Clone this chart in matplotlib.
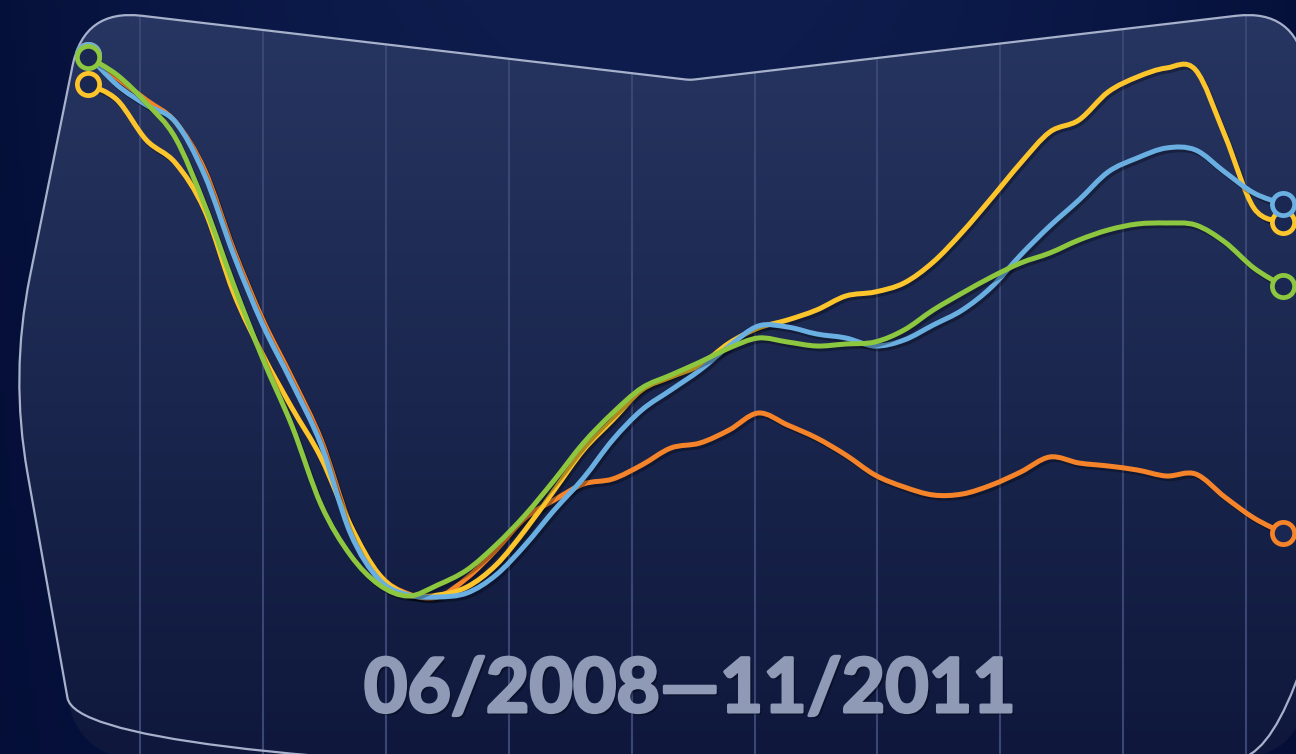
import matplotlib
matplotlib.use("Agg")
import matplotlib.pyplot as plt
import matplotlib.patheffects as pe
import numpy as np
from matplotlib.path import Path
from matplotlib.patches import PathPatch

W, H = 1296, 754

# monthly index, 06/2008 .. 11/2011 (42 months)
months = list(range(42))
period_label = "06/2008\u201411/2011"

blue = [109.0, 103.0, 99.0, 95.6, 85.0, 69.0, 55.0, 43.4, 31.0, 13.4, 4.0, 1.0,
        0.6, 1.4, 5.0, 11.0, 18.0, 24.4, 32.0, 38.0, 42.0, 46.0, 50.8, 54.8,
        54.6, 53.2, 52.4, 50.8, 52.0, 55.0, 58.0, 62.6, 69.0, 74.8, 80.0, 85.6,
        88.4, 90.4, 90.0, 85.6, 81.4, 79.2]
orange = [109.0, 104.4, 100.0, 95.6, 86.0, 70.0, 56.0, 44.4, 32.0, 15.0, 5.0, 1.2,
          0.6, 4.4, 10.0, 16.4, 20.0, 23.2, 24.2, 27.0, 30.4, 31.4, 34.0, 37.4,
          35.0, 32.4, 29.0, 25.0, 22.6, 21.0, 21.2, 23.0, 25.6, 28.6, 27.4, 26.8,
          26.0, 24.8, 25.2, 20.6, 16.4, 13.4]
yellow = [103.2, 100.0, 92.0, 87.4, 78.0, 61.4, 49.0, 38.4, 28.4, 15.0, 5.0, 1.0,
          1.0, 2.6, 7.0, 14.0, 22.0, 30.0, 36.0, 42.0, 44.6, 47.0, 51.4, 54.4,
          56.0, 58.0, 60.8, 61.6, 63.4, 67.6, 73.6, 80.4, 87.4, 93.6, 96.0, 101.6,
          104.6, 106.4, 106.0, 93.0, 78.4, 75.6]
green = [108.6, 105.0, 99.4, 92.4, 79.0, 63.0, 48.2, 34.8, 19.0, 9.0, 3.0, 0.8,
         3.0, 6.0, 11.0, 17.0, 24.0, 31.4, 37.4, 42.4, 45.0, 47.6, 50.4, 52.4,
         51.6, 50.8, 51.2, 51.6, 54.0, 58.0, 61.4, 64.6, 67.4, 69.4, 72.0, 74.0,
         75.2, 75.4, 75.0, 71.6, 66.4, 62.8]

series = [
    (orange, "#f5832a"),
    (yellow, "#fdc52c"),
    (blue, "#6aafe2"),
    (green, "#8dc63f"),
]


def rounded_path(pts, radii):
    verts, codes = [], []
    n = len(pts)
    for i in range(n):
        p = np.array(pts[i], float)
        a = np.array(pts[i - 1], float)
        b = np.array(pts[(i + 1) % n], float)
        ua = (a - p) / np.linalg.norm(a - p)
        ub = (b - p) / np.linalg.norm(b - p)
        verts.append(p + ua * radii[i])
        codes.append(Path.MOVETO if i == 0 else Path.LINETO)
        verts += [p, p + ub * radii[i]]
        codes += [Path.CURVE3, Path.CURVE3]
    verts.append(verts[0])
    codes.append(Path.CLOSEPOLY)
    return Path(verts, codes)


def smooth_path(x, y):
    # catmull-rom through the data points, drawn as cubic bezier segments
    p = np.column_stack([x, y]).astype(float)
    q = np.vstack([p[:1], p, p[-1:]])
    verts, codes = [p[0]], [Path.MOVETO]
    for i in range(len(p) - 1):
        c1 = q[i + 1] + (q[i + 2] - q[i]) / 6
        c2 = q[i + 2] - (q[i + 3] - q[i + 1]) / 6
        verts += [c1, c2, q[i + 2]]
        codes += [Path.CURVE4] * 3
    return Path(verts, codes)


fig = plt.figure(figsize=(W / 100, H / 100), dpi=100)

# background layer in pixel coordinates
bg = fig.add_axes([0, 0, 1, 1])
bg.set_xlim(0, W)
bg.set_ylim(H, 0)
bg.axis("off")

yy, xx = np.mgrid[0:1:150j, 0:1:260j]
t = np.clip(1 - ((xx - 0.5) / 0.6) ** 2, 0, 1) * (1 - 0.35 * yy)
dark = np.array([2, 11, 50]) / 255
mid = np.array([14, 29, 78]) / 255
outer = dark + (mid - dark) * t[..., None]
bg.imshow(outer, extent=[0, W, H, 0], aspect="auto", zorder=0)

panel_pts = [(10, 375), (84, 9), (690, 80), (1294, 9), (1368, 375),
             (1296, 757), (690, 775), (78, 757)]
panel_r = [100, 58, 4, 58, 100, 60, 4, 60]
panel = PathPatch(rounded_path(panel_pts, panel_r), facecolor="none",
                  edgecolor="#a7b1cb", lw=1.6, zorder=3)
bg.add_patch(panel)

gy = np.linspace(0, 1, 200)[:, None]
top_c = np.array([39, 54, 98]) / 255
bot_c = np.array([15, 24, 60]) / 255
grad = top_c + (bot_c - top_c) * gy[..., None]
grad = np.repeat(grad, 2, axis=1)
im = bg.imshow(grad, extent=[0, W, H, 0], aspect="auto", zorder=1)
im.set_clip_path(panel)

grid_x = 140 + 122.9 * np.arange(10)
vl = bg.vlines(grid_x, 0, H, colors="#3a4774", lw=1.5, zorder=2)
vl.set_clip_path(panel)

# data layer
x0_px, x1_px = 88, 1283
step = (x1_px - x0_px) / (len(months) - 1)
ax = fig.add_axes([0, 0, 1, 1])
ax.patch.set_alpha(0)
ax.axis("off")
ax.set_xlim(-x0_px / step, (W - x0_px) / step)
ax.set_ylim(120 - H / 5, 120)

shadow = [pe.SimpleLineShadow(offset=(1.5, -2), shadow_color="k", alpha=0.3), pe.Normal()]
for z, (vals, col) in enumerate(series):
    ax.add_patch(PathPatch(smooth_path(months, vals), facecolor="none", edgecolor=col,
                           lw=3.6, joinstyle="round", capstyle="round",
                           path_effects=shadow, zorder=10 + z))
for z, (vals, col) in enumerate(series):
    ax.plot([months[0], months[-1]], [vals[0], vals[-1]], "o", ms=16,
            mfc="#1b2753", mec=col, mew=3.4, clip_on=False, zorder=20 + z)

txt_col = "#8f9ab7"
fig.text(690 / W, 1 - 712 / H, period_label, ha="center", va="baseline",
         fontsize=54, fontweight="bold", color=txt_col,
         family=["Lato", "DejaVu Sans"],
         path_effects=[pe.SimplePatchShadow(offset=(2, -2), shadow_rgbFace="k", alpha=0.35),
                       pe.Stroke(linewidth=2.2, foreground=txt_col), pe.Normal()],
         zorder=30)

fig.savefig("out.png", dpi=100)
